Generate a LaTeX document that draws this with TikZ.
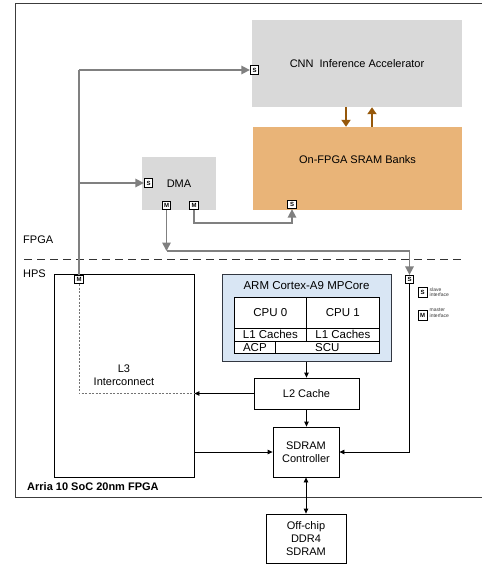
\documentclass[tikz,border=0pt]{standalone}
\usepackage{fontspec}
\setmainfont{Liberation Sans}
\usetikzlibrary{arrows.meta,calc}
\definecolor{boxgray}{RGB}{217,217,217}
\definecolor{sramfill}{RGB}{233,180,120}
\definecolor{brownarr}{RGB}{150,88,10}
\definecolor{armblue}{RGB}{217,230,244}
\definecolor{armborder}{RGB}{50,55,65}
\definecolor{linegray}{RGB}{128,128,128}
\definecolor{framegray}{RGB}{60,60,60}
\tikzset{
  txt/.style={font=\fontsize{11}{13}\selectfont, text=black},
  fbox/.style={txt, draw=none, inner sep=0pt, align=center},
  wbox/.style={txt, draw=black, line width=0.8pt, fill=white, inner sep=0pt, align=center},
  cell/.style={font=\fontsize{11.5}{13}\selectfont, text=black, draw=black, fill=white, line width=0.7pt, inner sep=0pt, align=center, anchor=north west},
  port/.style={draw=black, line width=0.8pt, fill=white, inner sep=0pt, minimum width=8.5pt, minimum height=8.5pt, font=\fontsize{6}{6}\selectfont\bfseries},
  garrow/.style={draw=linegray, line width=1.6pt, -{Triangle[length=8.5pt,width=8.5pt]}},
  gline/.style={draw=linegray, line width=1.6pt},
  barrow/.style={draw=black, line width=0.8pt, -{Triangle[length=5pt,width=4.5pt]}},
  brarrow/.style={draw=brownarr, line width=2pt, -{Triangle[length=7pt,width=9pt]}},
  legtxt/.style={font=\fontsize{5}{5.5}\selectfont, text=black!80, align=left, anchor=west, inner sep=0pt},
}
\begin{document}
\begin{tikzpicture}[x=1pt,y=-1pt]
\useasboundingbox (0,0) rectangle (482,568);
% outer frame
\draw[framegray, line width=1pt] (482,3) -- (15,3) -- (15,497) -- (482,497);
% separator
\draw[black!80, line width=1pt, dash pattern=on 8pt off 5pt] (24,259) -- (462,259);
\node[txt, anchor=west, inner sep=0pt] (lfpga) at (23,240) {FPGA};
\node[txt, anchor=west, inner sep=0pt] (lhps) at (23,274) {HPS};
\node[txt, anchor=west, inner sep=0pt, font=\fontsize{11}{13}\selectfont\bfseries] (larria) at (27,487) {Arria 10 SoC 20nm FPGA};

% FPGA blocks
\node[fbox, fill=boxgray, minimum width=210pt, minimum height=87pt] (cnn) at (357,63.5) {CNN\ \ Inference Accelerator};
\node[fbox, fill=sramfill, minimum width=209pt, minimum height=83pt] (sram) at (357.5,168.5) {On-FPGA SRAM Banks\\[4pt]};
\node[fbox, fill=boxgray, minimum width=74pt, minimum height=53pt] (dma) at (179,183.5) {DMA};

% HPS blocks
\node[wbox, minimum width=140pt, minimum height=203pt] (l3) at (124,375.5) {L3\\Interconnect};
\node[wbox, draw=armborder, line width=1pt, fill=armblue, minimum width=169pt, minimum height=87pt] (arm) at (306.5,317.5) {};
\node[txt, font=\fontsize{11.5}{13}\selectfont, inner sep=0pt] (armtitle) at (306.5,285.5) {ARM Cortex-A9 MPCore};
\node[cell, minimum width=72pt, minimum height=31pt] (cpu0) at (234,297) {CPU 0};
\node[cell, minimum width=73pt, minimum height=31pt] (cpu1) at (306,297) {CPU 1};
\node[cell, minimum width=72pt, minimum height=13pt] (l1a) at (234,328) {L1 Caches};
\node[cell, minimum width=73pt, minimum height=13pt] (l1b) at (306,328) {L1 Caches};
\node[cell, minimum width=41pt, minimum height=12pt] (acp) at (234,341) {ACP};
\node[cell, minimum width=104pt, minimum height=12pt] (scu) at (275,341) {SCU};
\node[wbox, minimum width=105pt, minimum height=31pt] (l2) at (306.5,393.5) {L2 Cache};
\node[wbox, minimum width=66pt, minimum height=50pt] (sdram) at (306,452) {SDRAM\\Controller};
\node[wbox, minimum width=80pt, minimum height=49pt] (ddr) at (306,538.5) {Off-chip\\DDR4\\SDRAM};

% ports
\node[port] (pcnn) at (254.5,70) {S};
\node[port] (pdma) at (148.5,183) {S};
\node[port] (pm1) at (166.5,205.5) {M};
\node[port] (pm2) at (194,205.5) {M};
\node[port] (psram) at (292,204.5) {S};
\node[port] (pl3) at (79,279.5) {M};
\node[port] (phps) at (409.5,279.5) {S};

% legend
\node[port, minimum width=9pt, minimum height=10pt] (legs) at (422.5,292.5) {S};
\node[port, minimum width=9pt, minimum height=10pt] (legm) at (422.5,315.5) {M};
\node[legtxt] (legst) at (429.5,292) {slave\\interface};
\node[legtxt] (legmt) at (429.5,313) {master\\interface};

% gray connectors
\coordinate (jt) at (79,70);
\coordinate (jd) at (79,183);
\draw[gline] (pl3.north) -- (jt);
\draw[garrow] (jt) -- (pcnn.west);
\draw[garrow] (jd) -- (pdma.west);
\draw[garrow] (pm2.south) |- (292,223) -- (psram.south);
\coordinate (jm) at (166.5,251);
\draw[garrow] (pm1.south) -- (jm);
\draw[garrow] (jm) -| (phps.north);

% brown arrows
\draw[brarrow] ($(cnn.south)+(-11,0)$) -- ($(sram.north)+(-11.5,0)$);
\draw[brarrow] ($(sram.north)+(14.5,0)$) -- ($(cnn.south)+(15,0)$);

% black connectors
\draw[barrow] (arm.south) -- (l2.north);
\draw[barrow] (l2.west) -- (l2.west -| l3.east);
\draw[draw=black!55, line width=0.6pt, dash pattern=on 2pt off 1.5pt] (pl3.south) |- (l2.west -| l3.east);
\draw[barrow] (l2.south) -- (l2.south |- sdram.north);
\draw[barrow] (sdram.west -| l3.east) -- (sdram.west);
\draw[barrow] (phps.south) |- (sdram.east);
\draw[draw=black, line width=0.8pt, {Triangle[length=5pt,width=4.5pt]}-{Triangle[length=5pt,width=4.5pt]}] (sdram.south) -- (ddr.north);
\end{tikzpicture}
\end{document}
